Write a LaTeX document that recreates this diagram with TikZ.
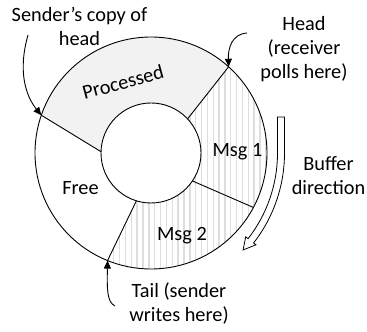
\documentclass[tikz,border=0pt]{standalone}
\usepackage{fontspec}
\setmainfont{Carlito}
\usetikzlibrary{arrows.meta,calc}
\definecolor{procgray}{HTML}{F2F2F2}
\definecolor{hatchgray}{HTML}{DEDEDE}
\begin{document}
\begin{tikzpicture}[x=1pt,y=1pt,
  lbl/.style={font=\fontsize{20.3}{24}\selectfont, align=center, inner sep=0pt},
  edge/.style={line width=0.9pt},
  pointer/.style={line width=0.9pt, -{Triangle[length=8pt,width=7pt]}},
  hatch/.style={line width=1.4pt, color=hatchgray},
  hollowarrow/.style={line width=0.8pt, fill=white}
]
\useasboundingbox (0,0) rectangle (367,332);
\coordinate (C) at (151,179);
\coordinate (hO) at ($(C)+(48:116)$);
\coordinate (hI) at ($(C)+(43:50)$);
\coordinate (sO) at ($(C)+(161:116)$);
\coordinate (sI) at ($(C)+(178.5:50)$);
\coordinate (tO) at ($(C)+(248:116)$);
\coordinate (tI) at ($(C)+(253:50)$);
\coordinate (mO) at ($(C)+(-28:116)$);
\coordinate (mI) at ($(C)+(-34:50)$);

% Processed sector
\fill[procgray] (hO) arc[start angle=48,end angle=161,radius=116] -- (sI) arc[start angle=178.5,end angle=43,radius=50] -- cycle;

% Msg 1 hatching
\begin{scope}
  \clip (mO) arc[start angle=-28,end angle=48,radius=116] -- (hI) arc[start angle=43,end angle=-34,radius=50] -- cycle;
  \foreach \k in {-4,...,30} \draw[hatch] ({119.6+5.85*\k},40) -- ++(0,260);
\end{scope}
% Msg 2 hatching
\begin{scope}
  \clip (tO) arc[start angle=248,end angle=332,radius=116] -- (mI) arc[start angle=326,end angle=253,radius=50] -- cycle;
  \foreach \k in {-4,...,30} \draw[hatch] ({119.6+5.85*\k},40) -- ++(0,260);
\end{scope}

% rings
\draw[edge] (C) circle[radius=116];
\draw[edge,fill=white] (C) circle[radius=50];
\draw[edge] (hI) -- (hO);
\draw[edge] (sI) -- (sO);
\draw[edge] (tI) -- (tO);
\draw[edge] (mI) -- (mO);

% buffer direction hollow arrow
\coordinate (O2) at (138,179);
\draw[hollowarrow] (277.5,215) -- (277.5,179) arc[start angle=0,end angle=-37.9,radius=139.5]
  -- ($(O2)+(-37.9:136.5)$) -- ($(O2)+(-42.7:143)$) -- ($(O2)+(-37.9:149.5)$)
  -- ($(O2)+(-37.9:146.5)$) arc[start angle=-37.9,end angle=0,radius=146.5] -- (284.5,215) -- cycle;

% labels
\node[lbl] (sender) at (79.5,305.8) {Sender’s copy of\\head};
\node[lbl] (head) at (304,283.3) {Head\\(receiver\\polls here)};
\node[lbl] (buf) at (328.5,156) {Buffer\\direction};
\node[lbl] (tail) at (179,28.2) {Tail (sender\\writes here)};
\node[lbl, rotate=15] (proc) at (123,250) {Processed};
\node[lbl, anchor=base] (m1) at (237.5,175.3) {Msg 1};
\node[lbl, anchor=base] (m2) at (182,91.3) {Msg 2};
\node[lbl, anchor=base] (free) at (80.5,137) {Free};

% pointers
\coordinate (sA) at (28,297);
\coordinate (hA) at (247,299);
\coordinate (tA) at (115,26);
\draw[pointer] (sA) .. controls (18,262) and (25,237) .. (sO);
\draw[pointer] (hA) .. controls (232,298) and (228,284) .. (hO);
\draw[pointer] (tA) .. controls (107,30) and (107,42) .. (tO);
\end{tikzpicture}
\end{document}
